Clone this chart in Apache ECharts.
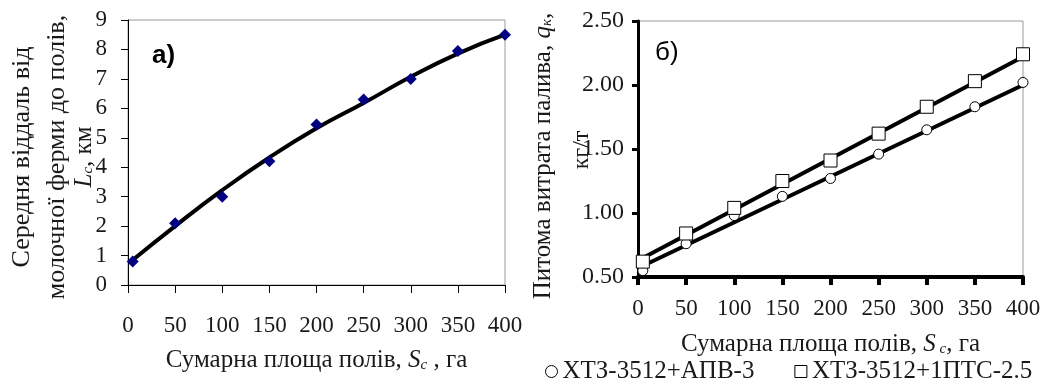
<!DOCTYPE html>
<html>
<head>
<meta charset="utf-8">
<script src="https://cdn.jsdelivr.net/npm/echarts@6/dist/echarts.min.js"></script>
<style>
  html, body { margin: 0; padding: 0; background: #fff; }
  #chart { width: 1055px; height: 381px; }
</style>
</head>
<body>
<div id="chart"></div>
<script>
// panel a) average distance vs total field area
const areaA = [5, 50, 100, 150, 200, 250, 300, 350, 400];
const distA = [0.8, 2.1, 3.0, 4.2, 5.45, 6.3, 7.0, 7.95, 8.5];
const distFit = [0.85, 2.0, 3.22, 4.33, 5.32, 6.18, 7.07, 7.86, 8.5];

// panel б) specific fuel consumption
const areaB = [5, 50, 100, 150, 200, 250, 300, 350, 400];
const fuelApv = [0.55, 0.76, 0.98, 1.13, 1.27, 1.46, 1.65, 1.83, 2.02];
const fuelPts = [0.62, 0.84, 1.04, 1.25, 1.41, 1.62, 1.83, 2.03, 2.24];
const fitX = [3, 400];
const fitApv = [0.58, 2.0];
const fitPts = [0.64, 2.22];

const seriesNames = ["ХТЗ-3512+АПВ-3", "ХТЗ-3512+1ПТС-2.5"];

const font = "'Liberation Serif', 'Times New Roman', serif";
const ink = "#1a1a1a";
const pairs = (xs, ys) => xs.map((x, i) => [x, ys[i]]);

const chart = echarts.init(document.getElementById("chart"));

const axisText = { color: ink, fontFamily: font, fontSize: 23 };
const subRich = {
  i: { fontFamily: font, fontStyle: "italic", fontSize: 25, color: ink },
  s: { fontFamily: font, fontStyle: "italic", fontSize: 15, color: ink, padding: [9, 0, 0, 0] },
  t: { fontFamily: font, fontSize: 25, color: ink },
};
const titleRich = {
  i: { font: "italic 25px " + font, fill: ink },
  s: { font: "italic 15px " + font, fill: ink, padding: [9, 0, 0, 0] },
  t: { font: "25px " + font, fill: ink },
};

chart.setOption({
  animation: false,
  grid: [
    { left: 128, right: 550, top: 20, bottom: 96, show: true, borderColor: "#9a9a9a", borderWidth: 1 },
    { left: 638, right: 32, top: 21, bottom: 104, show: true, borderColor: "#9a9a9a", borderWidth: 1 },
  ],
  xAxis: [
    {
      gridIndex: 0, type: "value", min: 0, max: 400, interval: 50,
      axisLine: { onZero: false, lineStyle: { color: "#000", width: 1 } },
      axisTick: { length: 8, lineStyle: { color: "#000", width: 1 } },
      axisLabel: { ...axisText, margin: 29 },
      splitLine: { show: false },
      name: "{t|Сумарна площа полів, }{i|S}{s|c}{t| , га}",
      nameLocation: "middle", nameGap: 63,
      nameTextStyle: { rich: subRich },
    },
    {
      gridIndex: 1, type: "value", min: 0, max: 400, interval: 50,
      axisLine: { onZero: false, lineStyle: { color: "#000", width: 4 } },
      axisTick: { length: 8, lineStyle: { color: "#000", width: 4 } },
      axisLabel: { ...axisText, margin: 20 },
      splitLine: { show: false },
      name: "{t|Сумарна площа полів, }{i|S}{s| c}{t|, га}",
      nameLocation: "middle", nameGap: 55,
      nameTextStyle: { rich: subRich },
    },
  ],
  yAxis: [
    {
      gridIndex: 0, type: "value", min: 0, max: 9, interval: 1,
      axisLine: { show: true, onZero: false, lineStyle: { color: "#000", width: 1 } },
      axisTick: { show: true, length: 7, lineStyle: { color: "#000", width: 1 } },
      axisLabel: { ...axisText, margin: 21 },
      splitLine: { show: false },
    },
    {
      gridIndex: 1, type: "value", min: 0.5, max: 2.5, interval: 0.5,
      axisLine: { show: true, onZero: false, lineStyle: { color: "#000", width: 3 } },
      axisTick: { show: true, length: 6, lineStyle: { color: "#000", width: 3 } },
      axisLabel: { ...axisText, fontSize: 24, margin: 14, formatter: (v) => v.toFixed(2) },
      splitLine: { show: false },
    },
  ],
  legend: {
    left: 540, top: 354, itemGap: 40, itemWidth: 12, itemHeight: 12,
    data: [
      { name: seriesNames[0], icon: "circle", itemStyle: { color: "#fff", borderColor: "#000", borderWidth: 1 } },
      { name: seriesNames[1], icon: "rect", itemStyle: { color: "#fff", borderColor: "#000", borderWidth: 1 } },
    ],
    textStyle: { color: ink, fontFamily: font, fontSize: 25 },
  },
  series: [
    {
      type: "line", xAxisIndex: 0, yAxisIndex: 0, data: pairs(areaA, distFit),
      smooth: true, showSymbol: false, lineStyle: { color: "#000", width: 4 }, z: 2,
    },
    {
      type: "scatter", xAxisIndex: 0, yAxisIndex: 0, data: pairs(areaA, distA),
      symbol: "diamond", symbolSize: 12, itemStyle: { color: "#000080", opacity: 1 }, z: 3,
    },
    {
      type: "line", xAxisIndex: 1, yAxisIndex: 1, data: pairs(fitX, fitApv),
      showSymbol: false, lineStyle: { color: "#000", width: 4 }, z: 2,
    },
    {
      type: "line", xAxisIndex: 1, yAxisIndex: 1, data: pairs(fitX, fitPts),
      showSymbol: false, lineStyle: { color: "#000", width: 4 }, z: 2,
    },
    {
      name: seriesNames[0], type: "scatter", xAxisIndex: 1, yAxisIndex: 1, data: pairs(areaB, fuelApv),
      symbol: "circle", symbolSize: 10,
      itemStyle: { color: "#fff", borderColor: "#000", borderWidth: 1, opacity: 1 }, z: 3,
    },
    {
      name: seriesNames[1], type: "scatter", xAxisIndex: 1, yAxisIndex: 1, data: pairs(areaB, fuelPts),
      symbol: "rect", symbolSize: 13,
      itemStyle: { color: "#fff", borderColor: "#000", borderWidth: 1, opacity: 1 }, z: 3,
    },
  ],
  graphic: [
    { type: "text", left: 152, top: 43, style: { text: "а)", font: "bold 26px 'Liberation Sans', Arial, sans-serif", fill: "#000" } },
    { type: "text", left: 655, top: 40, style: { text: "б)", font: "26px 'Liberation Sans', Arial, sans-serif", fill: "#000" } },
    {
      type: "text", x: 22, y: 157, rotation: Math.PI / 2,
      style: { text: "Середня віддаль від", font: "26px " + font, fill: ink, align: "center", verticalAlign: "middle" },
    },
    {
      type: "text", x: 57, y: 157, rotation: Math.PI / 2,
      style: { text: "молочної ферми до полів,", font: "26px " + font, fill: ink, align: "center", verticalAlign: "middle" },
    },
    {
      type: "text", x: 84, y: 157, rotation: Math.PI / 2,
      style: { text: "{i|L}{s|c}{t|, км}", align: "center", verticalAlign: "middle", rich: titleRich },
    },
    {
      type: "text", x: 543, y: 156, rotation: Math.PI / 2,
      style: { text: "{t|Питома витрата палива, }{i|q}{s|к}{t|,}", align: "center", verticalAlign: "middle", rich: titleRich },
    },
    {
      type: "text", x: 582, y: 150, rotation: Math.PI / 2,
      style: { text: "кг/т", font: "24px " + font, fill: ink, align: "center", verticalAlign: "middle" },
    },
  ],
});
</script>
</body>
</html>
